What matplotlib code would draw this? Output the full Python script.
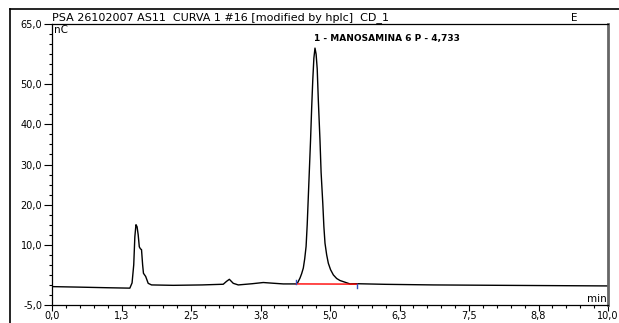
import matplotlib.pyplot as plt
from matplotlib.lines import Line2D

# chromatogram (min, nC)
time = [0.00, 0.50, 1.00, 1.40, 1.44, 1.47, 1.49, 1.51, 1.53, 1.55, 1.57, 1.59,
        1.61, 1.63, 1.645, 1.685, 1.73, 1.79, 2.18, 2.70, 3.08, 3.14, 3.19,
        3.26, 3.35, 3.60, 3.80, 4.00, 4.16, 4.39, 4.42, 4.46, 4.49, 4.52, 4.545,
        4.57, 4.59, 4.61, 4.63, 4.65, 4.67, 4.69, 4.71, 4.73, 4.75, 4.77, 4.79,
        4.82, 4.84, 4.87, 4.89, 4.91, 4.94, 4.97, 5.01, 5.06, 5.12, 5.18, 5.36,
        5.49, 6.00, 6.86, 8.06, 10.00]
signal = [-0.42, -0.55, -0.70, -0.80, 0.5, 5.0, 12.0, 15.0, 14.5, 12.5, 9.5, 9.0,
          8.8, 5.0, 2.9, 2.1, 0.4, 0.0, -0.1, 0.0, 0.17, 0.9, 1.4,
          0.4, 0.0, 0.3, 0.6, 0.4, 0.25, 0.25, 0.6, 1.7, 2.8, 4.2, 6.5,
          9.6, 15.0, 22.0, 29.0, 36.0, 44.0, 51.0, 56.5, 59.0, 57.5, 53.8, 46.0,
          36.0, 28.0, 20.4, 14.5, 10.4, 7.5, 5.4, 3.8, 2.5, 1.6, 1.1, 0.25,
          0.3, 0.15, 0.0, -0.1, -0.25]

# integration baseline of peak 1
base_t = [4.39, 5.49]
base_v = [0.25, 0.2]

peak_time = 4.73
peak_label = "1 - MANOSAMINA 6 P - 4,733"

xticks = [0.0, 1.25, 2.5, 3.75, 5.0, 6.25, 7.5, 8.75, 10.0]
xlabels = ["0,0", "1,3", "2,5", "3,8", "5,0", "6,3", "7,5", "8,8", "10,0"]
yticks = [-5, 10, 20, 30, 40, 50, 65]
ylabels = ["-5,0", "10,0", "20,0", "30,0", "40,0", "50,0", "65,0"]

plt.rcParams['font.family'] = ['DejaVu Sans']

fig = plt.figure(figsize=(6.19, 3.23), dpi=100)
ax = fig.add_axes([52/619, 18/323, 556/619, 281/323])

ax.plot(time, signal, color="black", lw=1.0)
ax.plot(base_t, base_v, color="red", lw=1.0)
ax.plot([base_t[0]]*2, [base_v[0], base_v[0] + 1.0], color="#3050c0", lw=1.0)
ax.plot([base_t[1]]*2, [base_v[1] - 1.0, base_v[1]], color="#3050c0", lw=1.0)

ax.text(peak_time - 0.02, 60.3, peak_label, fontsize=6.5, fontweight="bold",
        ha="left", va="bottom")

ax.set_xlim(0, 10)
ax.set_ylim(-5, 65)
ax.set_xticks(xticks)
ax.set_xticklabels(xlabels)
ax.set_xticks([i * 0.25 for i in range(41)], minor=True)
ax.set_yticks(yticks)
ax.set_yticklabels(ylabels)
ax.set_yticks([-5 + i * 2.5 for i in range(29)], minor=True)
ax.tick_params(axis="y", which="major", length=6, width=0.8, labelsize=7, pad=1)
ax.tick_params(axis="x", which="major", length=4, width=0.8, labelsize=7, pad=0.5)
ax.tick_params(which="minor", length=2.5, width=0.8)

for s in ["left", "bottom", "top"]:
    ax.spines[s].set_linewidth(0.9)
ax.spines["right"].set_linewidth(2)
ax.spines["right"].set_color("#666666")

ax.text(0.003, 0.995, "nC", transform=ax.transAxes, fontsize=7.5, ha="left", va="top")
ax.text(0.998, 0.005, "min", transform=ax.transAxes, fontsize=7.5, ha="right", va="bottom")
ax.text(0.0, 1.003, "PSA 26102007 AS11  CURVA 1 #16 [modified by hplc]  CD_1",
        transform=ax.transAxes, fontsize=8, ha="left", va="bottom")
ax.text(0.94, 1.003, "E", transform=ax.transAxes, fontsize=7.5, ha="center", va="bottom")

# outer frame (top and left)
fig.add_artist(Line2D([10/619, 1.0], [1 - 9/323, 1 - 9/323], color="black", lw=1.2))
fig.add_artist(Line2D([10/619, 10/619], [0.0, 1 - 9/323], color="black", lw=1.2))

fig.savefig("out.png", dpi=100)
